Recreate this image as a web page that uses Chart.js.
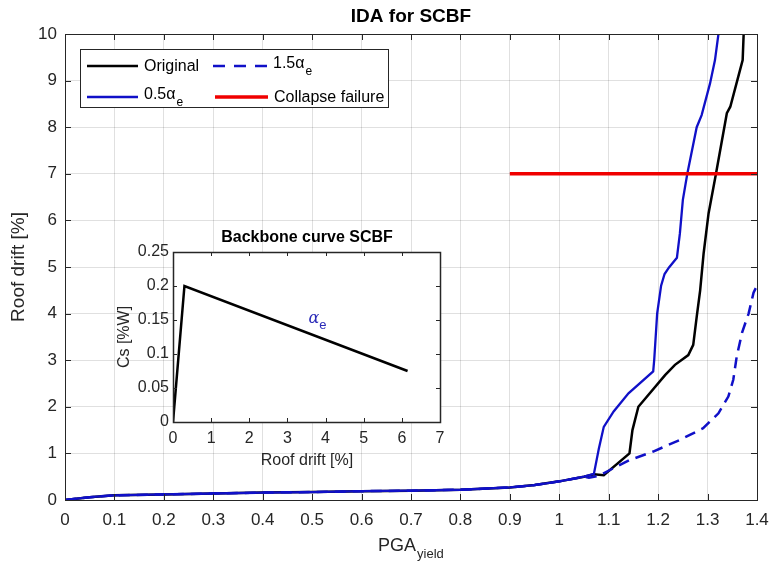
<!DOCTYPE html>
<html>
<head>
<meta charset="utf-8">
<script src="https://cdn.jsdelivr.net/npm/chart.js@4.4.1/dist/chart.umd.min.js"></script>
<style>
  body { margin: 0; background: #fff; }
  #wrap { position: relative; width: 770px; height: 567px; }
  #mainChart { position: absolute; left: 0; top: 0; }
  #insetChart { position: absolute; left: 100px; top: 220px; }
</style>
</head>
<body>
<div id="wrap">
  <canvas id="mainChart" width="770" height="567"></canvas>
  <canvas id="insetChart" width="360" height="260"></canvas>
</div>
<script>
// ----- Data -----
const xTicks = [0, 0.1, 0.2, 0.3, 0.4, 0.5, 0.6, 0.7, 0.8, 0.9, 1, 1.1, 1.2, 1.3, 1.4];
const yTicks = [0, 1, 2, 3, 4, 5, 6, 7, 8, 9, 10];

// shared low part of all three IDA curves
const pgaLow   = [0, 0.05, 0.1, 0.2, 0.3, 0.4, 0.5, 0.6, 0.7, 0.8, 0.9, 0.95, 1.0, 1.05];
const driftLow = [0, 0.06, 0.1, 0.12, 0.14, 0.16, 0.17, 0.19, 0.2, 0.22, 0.27, 0.32, 0.4, 0.5];

const pgaOriginal   = [1.07, 1.09, 1.142, 1.148, 1.16, 1.214, 1.234, 1.261, 1.271, 1.278, 1.285, 1.292, 1.302, 1.317, 1.339, 1.346, 1.362, 1.371, 1.373];
const driftOriginal = [0.55, 0.53, 1.0, 1.5, 2.0, 2.68, 2.9, 3.11, 3.33, 3.93, 4.5, 5.29, 6.15, 7.0, 8.3, 8.44, 9.08, 9.44, 10];

const pgaHalf   = [1.07, 1.08, 1.09, 1.11, 1.14, 1.19, 1.192, 1.198, 1.206, 1.213, 1.222, 1.238, 1.244, 1.25, 1.259, 1.278, 1.288, 1.305, 1.315, 1.322];
const driftHalf = [0.56, 1.1, 1.57, 1.9, 2.29, 2.76, 3.0, 4.0, 4.6, 4.85, 4.99, 5.2, 5.72, 6.44, 7.0, 8.0, 8.26, 8.94, 9.44, 10];

const pgaOneHalf   = [1.06, 1.08, 1.109, 1.143, 1.19, 1.244, 1.291, 1.322, 1.342, 1.352, 1.359, 1.37, 1.383, 1.393, 1.4];
const driftOneHalf = [0.48, 0.52, 0.68, 0.86, 1.04, 1.29, 1.54, 1.86, 2.22, 2.58, 3.08, 3.6, 4.0, 4.45, 4.6];

const pgaCollapse   = [0.9, 1.4];
const driftCollapse = [7, 7];

// inset backbone curve
const insetXTicks = [0, 1, 2, 3, 4, 5, 6, 7];
const insetYTicks = [0, 0.05, 0.1, 0.15, 0.2, 0.25];
const backboneDrift = [0, 0.3, 6.15];
const backboneCs    = [0, 0.2, 0.075];

// ----- Helpers -----
const FONT = '"Liberation Sans", Arial, sans-serif';
const AXIS_COL = '#262626';
const BLUE = '#1010c8';
const RED = '#f00000';

function pts(xs, ys) { return xs.map((x, i) => ({ x, y: ys[i] })); }
function fmt(v) { return String(+(+v).toFixed(2)); }

// MATLAB-style box with inward tick marks
function boxPlugin(len, lw) {
  return {
    id: 'box' + len,
    beforeDraw(chart) {
      const a = chart.chartArea, c = chart.ctx;
      c.save();
      c.fillStyle = '#fff';
      c.fillRect(a.left, a.top, a.right - a.left, a.bottom - a.top);
      c.restore();
    },
    afterDatasetsDraw(chart) {
      const a = chart.chartArea, c = chart.ctx;
      const sx = chart.scales.x, sy = chart.scales.y;
      c.save();
      c.strokeStyle = AXIS_COL;
      c.lineWidth = 1;
      c.beginPath();
      sx.ticks.forEach(t => {
        const px = Math.round(sx.getPixelForValue(t.value)) + 0.5;
        c.moveTo(px, a.bottom); c.lineTo(px, a.bottom - len);
        c.moveTo(px, a.top); c.lineTo(px, a.top + len);
      });
      sy.ticks.forEach(t => {
        const py = Math.round(sy.getPixelForValue(t.value)) + 0.5;
        c.moveTo(a.left, py); c.lineTo(a.left + len, py);
        c.moveTo(a.right, py); c.lineTo(a.right - len, py);
      });
      c.stroke();
      c.lineWidth = lw;
      c.strokeRect(Math.round(a.left) + 0.5, Math.round(a.top) + 0.5,
                   Math.round(a.right - a.left), Math.round(a.bottom - a.top));
      c.restore();
    },
  };
}

function drawSub(c, base, sub, x, y, size, subSize, color) {
  c.fillStyle = color;
  c.textBaseline = 'middle';
  c.textAlign = 'left';
  c.font = `${size}px ${FONT}`;
  c.fillText(base, x, y);
  const w1 = c.measureText(base).width;
  c.font = `${subSize}px ${FONT}`;
  c.fillText(sub, x + w1 + 1, y + size * 0.45);
}

// keep the plot box where the reference has it, whatever the label overhang
function fixX(h) { return s => { s.height = h; s.paddingLeft = 0; s.paddingRight = 0; }; }
function fixY(w) { return s => { s.width = w; s.paddingTop = 0; s.paddingBottom = 0; }; }

// ----- Main chart texts and legend -----
const mainText = {
  id: 'mainText',
  afterDraw(chart) {
    const c = chart.ctx;
    c.save();
    c.fillStyle = '#000';
    c.font = `bold 19px ${FONT}`;
    c.textAlign = 'center';
    c.textBaseline = 'middle';
    c.fillText('IDA for SCBF', 411, 17);

    c.fillStyle = AXIS_COL;
    c.font = `19px ${FONT}`;
    c.translate(19, 267);
    c.rotate(-Math.PI / 2);
    c.fillText('Roof drift [%]', 0, 0);
    c.restore();

    c.save();
    drawSub(c, 'PGA', 'yield', 378, 546, 18, 13, AXIS_COL);

    // legend
    c.fillStyle = '#fff';
    c.fillRect(80, 49, 308, 58);
    c.strokeStyle = AXIS_COL;
    c.lineWidth = 1;
    c.strokeRect(80.5, 49.5, 308, 58);

    const rows = [
      { x1: 87,  x2: 138, y: 66, col: '#000', dash: [],      lw: 2.5, label: 'Original', sub: '' },
      { x1: 213, x2: 267, y: 66, col: BLUE,   dash: [12, 9], lw: 2.5, label: '1.5\u03b1', sub: 'e' },
      { x1: 87,  x2: 138, y: 97, col: BLUE,   dash: [],      lw: 2.3, label: '0.5\u03b1', sub: 'e' },
      { x1: 215, x2: 268, y: 97, col: RED,    dash: [],      lw: 3.5, label: 'Collapse failure', sub: '' },
    ];
    rows.forEach(r => {
      c.beginPath();
      c.strokeStyle = r.col;
      c.lineWidth = r.lw;
      c.setLineDash(r.dash);
      c.moveTo(r.x1, r.y); c.lineTo(r.x2, r.y);
      c.stroke();
      c.setLineDash([]);
      const tx = r.x2 + 6;
      if (r.sub) drawSub(c, r.label, r.sub, tx, r.y - 2, 16, 12, '#000');
      else {
        c.fillStyle = '#000';
        c.font = `16px ${FONT}`;
        c.textAlign = 'left';
        c.textBaseline = 'middle';
        c.fillText(r.label, tx, r.y + 1);
      }
    });
    c.restore();
  },
};

function lineDs(label, data, color, width, order, dash) {
  return {
    label, data, order,
    borderColor: color,
    borderWidth: width,
    borderDash: dash || [],
    showLine: true,
    pointRadius: 0,
    tension: 0,
    fill: false,
  };
}

new Chart(document.getElementById('mainChart'), {
  type: 'scatter',
  data: {
    datasets: [
      lineDs('Original', pts(pgaLow.concat(pgaOriginal), driftLow.concat(driftOriginal)), '#000', 2.5, 3),
      lineDs('1.5αe', pts(pgaLow.concat(pgaOneHalf), driftLow.concat(driftOneHalf)), BLUE, 2.5, 2, [11, 7]),
      lineDs('0.5αe', pts(pgaLow.concat(pgaHalf), driftLow.concat(driftHalf)), BLUE, 2.3, 1),
      lineDs('Collapse failure', pts(pgaCollapse, driftCollapse), RED, 3.5, 0),
    ],
  },
  options: {
    responsive: false,
    animation: false,
    devicePixelRatio: 1,
    layout: { padding: { top: 34, right: 13, left: 0, bottom: 0 } },
    plugins: { legend: { display: false }, tooltip: { enabled: false } },
    scales: {
      x: {
        type: 'linear', min: 0, max: 1.4,
        afterBuildTicks: s => { s.ticks = xTicks.map(v => ({ value: v })); },
        afterFit: fixX(67),
        grid: { color: 'rgba(0,0,0,0.12)', drawTicks: false },
        border: { display: false },
        ticks: { padding: 10, color: AXIS_COL, font: { family: FONT, size: 17 }, callback: fmt, maxRotation: 0, autoSkip: false },
      },
      y: {
        type: 'linear', min: 0, max: 10,
        afterBuildTicks: s => { s.ticks = yTicks.map(v => ({ value: v })); },
        afterFit: fixY(65),
        grid: { color: 'rgba(0,0,0,0.12)', drawTicks: false },
        border: { display: false },
        ticks: { padding: 8, color: AXIS_COL, font: { family: FONT, size: 17 }, callback: fmt, autoSkip: false },
      },
    },
  },
  plugins: [boxPlugin(6, 1), mainText],
});

// ----- Inset -----
const insetText = {
  id: 'insetText',
  afterDraw(chart) {
    const c = chart.ctx;
    c.save();
    c.fillStyle = '#000';
    c.textAlign = 'center';
    c.textBaseline = 'middle';
    c.font = `bold 16px ${FONT}`;
    c.fillText('Backbone curve SCBF', 207, 18);
    c.fillStyle = AXIS_COL;
    c.font = `16px ${FONT}`;
    c.fillText('Roof drift [%]', 207, 241);
    c.translate(25, 117);
    c.rotate(-Math.PI / 2);
    c.fillText('Cs [%W]', 0, 0);
    c.restore();

    // alpha_e label placed in data coords
    const px = chart.scales.x.getPixelForValue(3.55);
    const py = chart.scales.y.getPixelForValue(0.152);
    c.save();
    c.fillStyle = '#2a2ab8';
    c.textBaseline = 'middle';
    c.textAlign = 'left';
    c.font = `italic 16px "DejaVu Serif", serif`;
    c.fillText('\u03b1', px, py);
    const w = c.measureText('\u03b1').width;
    c.font = `13px ${FONT}`;
    c.fillText('e', px + w, py + 7);
    c.restore();
  },
};

new Chart(document.getElementById('insetChart'), {
  type: 'scatter',
  data: {
    datasets: [
      lineDs('Backbone', pts(backboneDrift, backboneCs), '#000', 2.5, 0),
    ],
  },
  options: {
    responsive: false,
    animation: false,
    devicePixelRatio: 1,
    layout: { padding: { top: 32, right: 20, left: 0, bottom: 0 } },
    plugins: { legend: { display: false }, tooltip: { enabled: false } },
    scales: {
      x: {
        type: 'linear', min: 0, max: 7,
        afterBuildTicks: s => { s.ticks = insetXTicks.map(v => ({ value: v })); },
        afterFit: fixX(58),
        grid: { display: false, drawTicks: false },
        border: { display: false },
        ticks: { padding: 7, color: AXIS_COL, font: { family: FONT, size: 16 }, callback: fmt, maxRotation: 0, autoSkip: false },
      },
      y: {
        type: 'linear', min: 0, max: 0.25,
        afterBuildTicks: s => { s.ticks = insetYTicks.map(v => ({ value: v })); },
        afterFit: fixY(73),
        grid: { display: false, drawTicks: false },
        border: { display: false },
        ticks: { padding: 4, color: AXIS_COL, font: { family: FONT, size: 16 }, callback: fmt, autoSkip: false },
      },
    },
  },
  plugins: [boxPlugin(4, 1.5), insetText],
});
</script>
</body>
</html>
